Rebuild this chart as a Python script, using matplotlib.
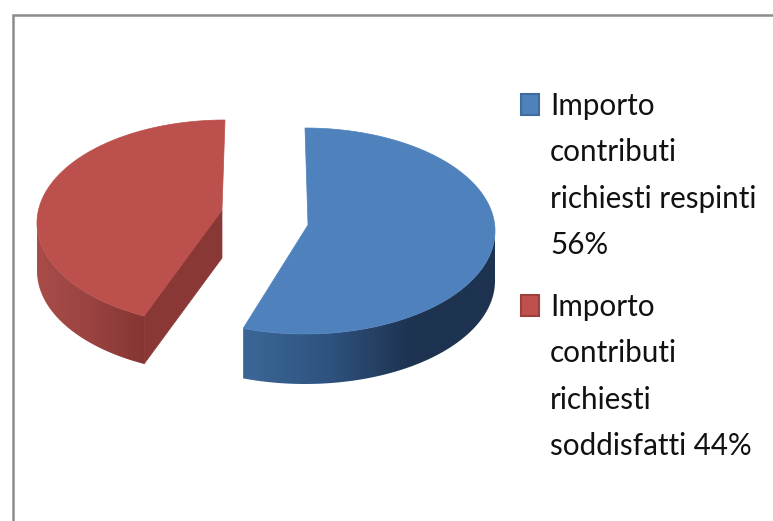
import numpy as np
import matplotlib
matplotlib.use('Agg')
import matplotlib.pyplot as plt
from matplotlib.colors import LinearSegmentedColormap
from matplotlib.patches import Polygon, Rectangle

labels = [['Importo', 'contributi', 'richiesti respinti', '56%'],
          ['Importo', 'contributi', 'richiesti', 'soddisfatti 44%']]
shares = [56, 44]

W, H = 773, 521
fig = plt.figure(figsize=(W / 100, H / 100), dpi=100)
ax = fig.add_axes([0, 0, 1, 1])
ax.set_xlim(0, W)
ax.set_ylim(H, 0)
ax.axis('off')

# outer chart frame, right and bottom are cropped in the picture
ax.plot([12.5, 12.5, W], [H, 15, 15], color='#8c8c8c', lw=1.8, solid_joinstyle='miter')

cut = 90 - 3.6 * shares[0]

blue_side = LinearSegmentedColormap.from_list('b', ['#3b6797', '#2f5380', '#1d3350', '#1d3350'])
red_side = LinearSegmentedColormap.from_list('r', ['#a84c49', '#9a4341', '#853533'])


def draw_slice(t0, t1, warp, cx, cy, rx, ry, apex, depth, top, cmap, xr, face=None):
    t = np.linspace(t0, t1, 160)
    t = t + warp * np.sin(np.radians(2 * t))
    x = cx + rx * np.cos(np.radians(t))
    y = cy - ry * np.sin(np.radians(t))
    # rim, only the part that faces the viewer
    low = np.sin(np.radians(t)) <= 0.02
    xl, yl = x[low], y[low]
    rim = Polygon(np.vstack([np.column_stack([xl, yl]),
                             np.column_stack([xl[::-1], yl[::-1] + depth])]),
                  closed=True, fc='none', ec='none', transform=ax.transData)
    ax.add_patch(rim)
    img = ax.imshow(np.linspace(0, 1, 256)[None, :], cmap=cmap, aspect='auto',
                    extent=(xr[0], xr[1], H, 0), zorder=1)
    img.set_clip_path(rim)
    if face is not None:
        p = (x[face], y[face])
        ax.add_patch(Polygon([apex, p, (p[0], p[1] + depth), (apex[0], apex[1] + depth)],
                             closed=True, fc='#8a3836', ec='#8a3836', lw=0.5, zorder=2))
    ax.add_patch(Polygon(np.vstack([[apex], np.column_stack([x, y])]), closed=True,
                         fc=top, ec=top, lw=0.5, zorder=3))


# blue slice goes clockwise from the top, red fills the rest
draw_slice(90, cut, 3.8, 305, 231, 190, 103, (308, 225), 50, '#4f81bd', blue_side, (243, 495))
draw_slice(cut, cut - 3.6 * shares[1], -5.7, 225, 223, 188, 103, (222, 210), 48, '#bb504c', red_side,
           (37, 145), face=0)
ax.set_xlim(0, W)
ax.set_ylim(H, 0)

for group, col, edge, y0 in zip(labels, ['#4f81bd', '#c0504d'], ['#3f6b9f', '#9c403d'], [115, 316]):
    ax.add_patch(Rectangle((521, y0 - 21), 18, 21, fc=col, ec=edge, lw=1.5))
    for i, line in enumerate(group):
        ax.text(550, y0 + i * 46.3, line, family='Lato', fontsize=21.3, color='#111111', va='baseline')

fig.savefig('out.png', dpi=100)
